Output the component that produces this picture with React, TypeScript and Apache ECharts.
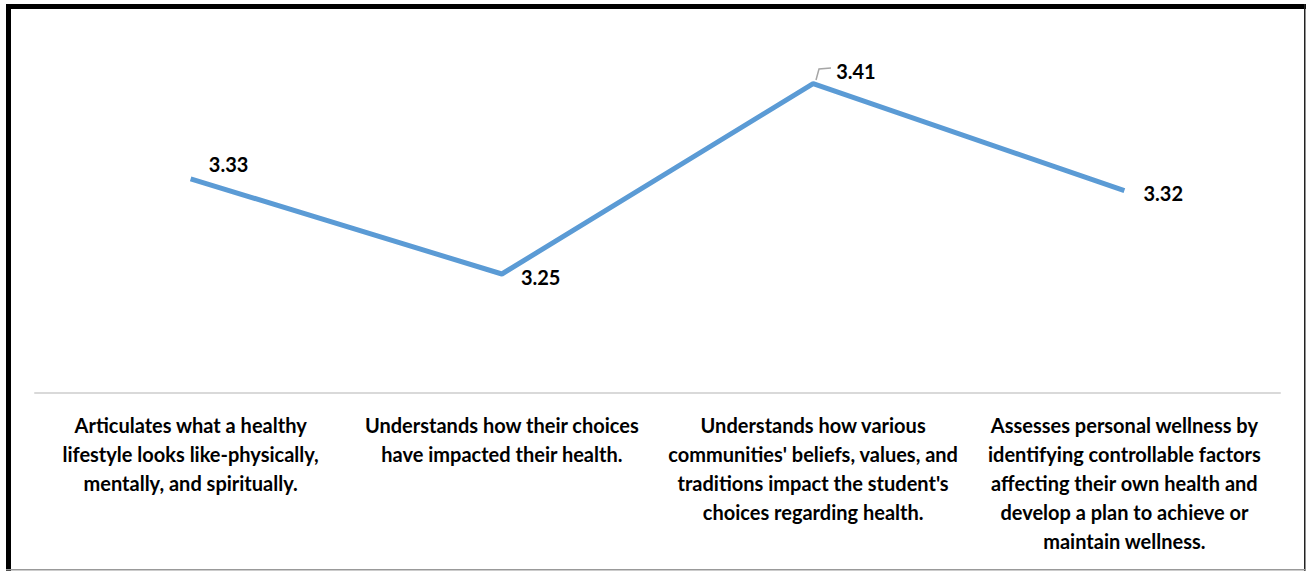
import React, { useEffect, useRef } from "react";
import * as echarts from "echarts";

const categories = [
  "Articulates what a healthy\nlifestyle looks like-physically,\nmentally, and spiritually.",
  "Understands how their choices\nhave impacted their health.",
  "Understands how various\ncommunities' beliefs, values, and\ntraditions impact the student's\nchoices regarding health.",
  "Assesses personal wellness by\nidentifying controllable factors\naffecting their own health and\ndevelop a plan to achieve or\nmaintain wellness.",
];
const values = [3.33, 3.25, 3.41, 3.32];

const FONT = "Lato, 'Open Sans', sans-serif";

export default function App() {
  const ref = useRef<HTMLDivElement>(null);
  useEffect(() => {
    if (!ref.current) return;
    const chart = echarts.init(ref.current, null, { renderer: "svg" });
    const labelOffsets = [
      { position: "top", offset: [38, 0] },
      { position: "right", offset: [14, 3] },
      { position: "right", offset: [18, -13] },
      { position: "right", offset: [14, 2] },
    ];
    chart.setOption({
      animation: false,
      backgroundColor: "#ffffff",
      grid: { left: 35, right: 27, top: 36, bottom: 178, containLabel: false },
      xAxis: {
        type: "category",
        data: categories,
        boundaryGap: true,
        axisLine: { show: true, lineStyle: { color: "#D9D9D9", width: 2 } },
        axisTick: { show: false },
        axisLabel: {
          interval: 0,
          margin: 17,
          color: "#000000",
          fontFamily: FONT,
          fontWeight: "bold",
          fontSize: 20,
          lineHeight: 29,
          align: "center",
        },
        splitLine: { show: false },
      },
      yAxis: {
        type: "value",
        min: 3.15,
        max: 3.45,
        show: false,
        splitLine: { show: false },
      },
      series: [
        {
          type: "line",
          data: values.map((v, i) => ({
            value: v,
            label: {
              show: true,
              position: labelOffsets[i].position,
              offset: labelOffsets[i].offset,
            },
          })),
          symbol: "circle",
          symbolSize: 0.1,
          lineStyle: { color: "#5B9BD5", width: 5 },
          itemStyle: { color: "#5B9BD5" },
          label: {
            show: true,
            color: "#000000",
            fontFamily: FONT,
            fontWeight: "bold",
            fontSize: 20,
            formatter: (p: any) => Number(p.value).toFixed(2),
          },
        },
      ],
      graphic: [
        { type: "rect", shape: { x: 6, y: 4, width: 1300, height: 5 }, style: { fill: "#000" }, silent: true },
        { type: "rect", shape: { x: 6, y: 4, width: 5, height: 567 }, style: { fill: "#000" }, silent: true },
        { type: "rect", shape: { x: 1304, y: 4, width: 1.5, height: 567 }, style: { fill: "#222" }, silent: true },
        { type: "rect", shape: { x: 6, y: 569, width: 1300, height: 1.5 }, style: { fill: "#999" }, silent: true },
        {
          type: "polyline",
          shape: { points: [[816, 80], [819, 69], [831, 68]] },
          style: { stroke: "#A6A6A6", lineWidth: 1.5, fill: "none" },
          silent: true,
        },
      ],
    });
    return () => chart.dispose();
  }, []);
  return (
    <div
      ref={ref}
      style={{ position: "absolute", left: 0, top: 0, width: 1307, height: 571 }}
    />
  );
}
